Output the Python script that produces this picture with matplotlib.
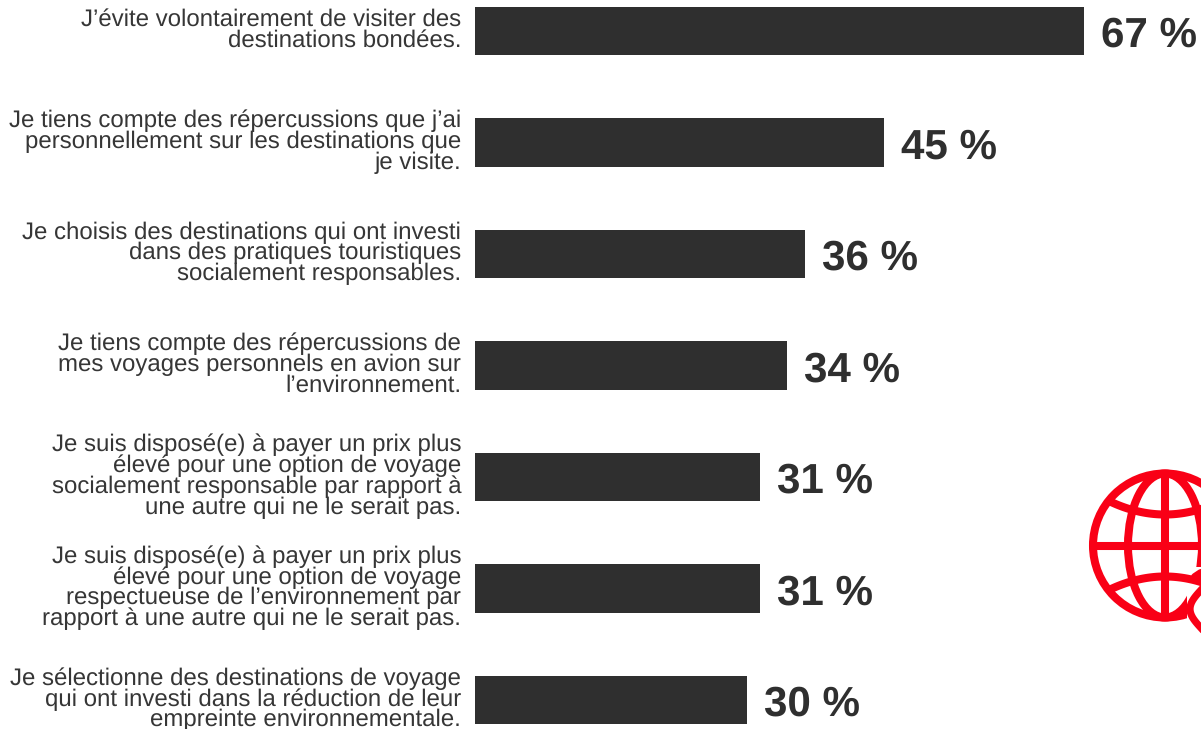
import numpy as np
from matplotlib import pyplot as plt
from matplotlib.patches import Circle, Ellipse, Rectangle
from matplotlib.transforms import ScaledTranslation

plt.rcParams['font.family'] = ['Liberation Sans', 'DejaVu Sans']
plt.rcParams['text.hinting'] = 'no_hinting'

labels = [
    "J’évite volontairement de visiter des\ndestinations bondées.",
    "Je tiens compte des répercussions que j’ai\npersonnellement sur les destinations que\nje visite.",
    "Je choisis des destinations qui ont investi\ndans des pratiques touristiques\nsocialement responsables.",
    "Je tiens compte des répercussions de\nmes voyages personnels en avion sur\nl’environnement.",
    "Je suis disposé(e) à payer un prix plus\nélevé pour une option de voyage\nsocialement responsable par rapport à\nune autre qui ne le serait pas.",
    "Je suis disposé(e) à payer un prix plus\nélevé pour une option de voyage\nrespectueuse de l’environnement par\nrapport à une autre qui ne le serait pas.",
    "Je sélectionne des destinations de voyage\nqui ont investi dans la réduction de leur\nempreinte environnementale.",
]
values = [67, 45, 36.3, 34.3, 31.3, 31.3, 29.9]

W, H = 1201, 729
dark = '#2f2f2f'
red = '#f90016'

fig = plt.figure(figsize=(W / 100, H / 100), dpi=100)
ax = fig.add_axes([475 / W, 0, 1 - 475 / W, 1])

y = np.arange(len(values))
ax.barh(y, values, height=0.432, color=dark)
ax.set_xlim(0, 726 / 9.09)
ax.set_ylim(6.26, -0.278)

ax.set_yticks(y)
ax.set_yticklabels(labels, fontsize=15.4 * 410 / 365, color='#363636', linespacing=0.905,
                   ha='right', multialignment='right')
ax.tick_params(axis='y', length=0, pad=10)
# labels sit a little above the bar centres
shift = ScaledTranslation(0, 2.5 / 100, fig.dpi_scale_trans)
for t in ax.get_yticklabels():
    t.set_transform(t.get_transform() + shift)
ax.set_xticks([])
for s in ax.spines.values():
    s.set_visible(False)

for i, v in enumerate(values):
    ax.annotate(f'{round(v)} %', (v, i), xytext=(12.5, -3.6), textcoords='offset points',
                va='center', ha='left', fontsize=30.3, fontweight='bold', color=dark)

# globe icon, in pixel coordinates, cut by the right edge
icon = fig.add_axes([0, 0, 1, 1], zorder=3)
icon.set_xlim(0, W)
icon.set_ylim(H, 0)
icon.axis('off')
icon.patch.set_alpha(0)
cx, cy = 1165, 545.5
lw = 5.8
icon.add_patch(Circle((cx, cy), 72, fill=False, ec=red, lw=lw))
icon.add_patch(Ellipse((cx, cy), 74, 144, fill=False, ec=red, lw=lw))
icon.plot([cx - 72, cx + 72], [cy, cy], color=red, lw=lw, solid_capstyle='butt')
icon.plot([cx, cx], [cy - 72, cy + 72], color=red, lw=lw, solid_capstyle='butt')
xs = np.linspace(-55, 55, 60)
icon.plot(cx + xs, cy - 31 - 13 * (xs / 55) ** 2, color=red, lw=lw, solid_capstyle='butt')
icon.plot(cx + xs, cy + 31 + 13 * (xs / 55) ** 2, color=red, lw=lw, solid_capstyle='butt')
# white gap and the small stroke at lower right
icon.add_patch(Rectangle((1187, 567), 14, 70, fc='white', ec='none'))
icon.plot([1195, 1201], [577, 573], color=red, lw=lw, solid_capstyle='round')
ts = np.linspace(0, 1, 40)
icon.plot(1201 - 11 * np.sin(np.pi * ts), 590 + 38 * ts, color=red, lw=lw * 0.9)

fig.savefig('out.png', dpi=100)
